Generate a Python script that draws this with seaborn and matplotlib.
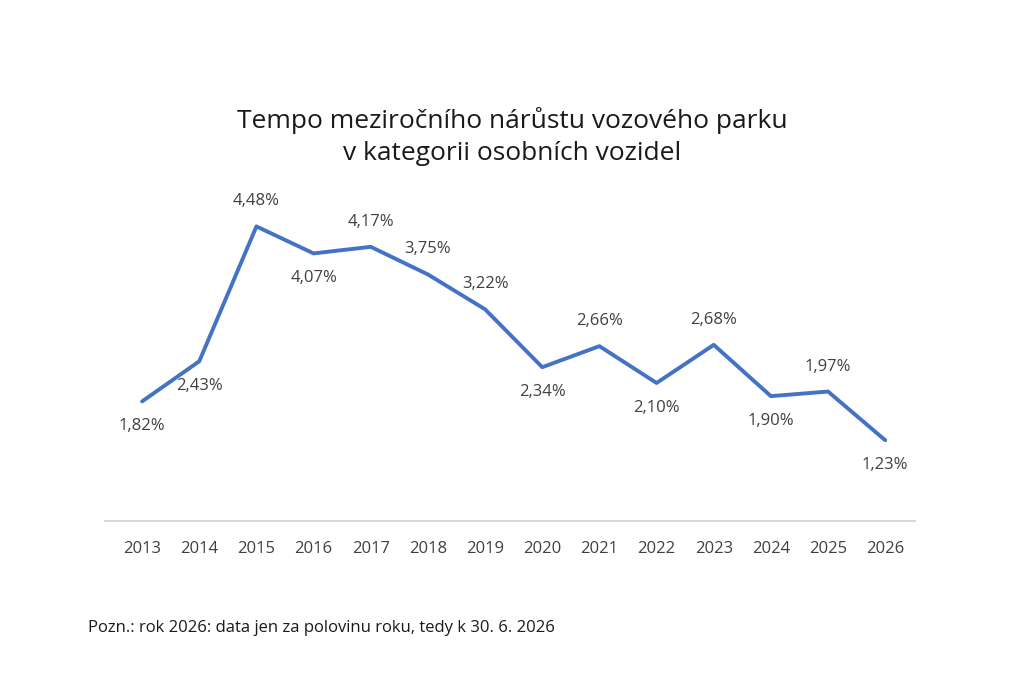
import matplotlib
matplotlib.use("Agg")
import matplotlib.pyplot as plt
import seaborn as sns
import pandas as pd

roky = ["2013", "2014", "2015", "2016", "2017", "2018", "2019",
        "2020", "2021", "2022", "2023", "2024", "2025", "2026"]
narust = [1.82, 2.43, 4.48, 4.07, 4.17, 3.75, 3.22,
          2.34, 2.66, 2.10, 2.68, 1.90, 1.97, 1.23]
popisek_nahore = [False, False, True, False, True, True, True,
                  False, True, False, True, False, True, False]

sns.set_theme(style="white")
plt.rcParams["font.family"] = ["Open Sans", "DejaVu Sans"]

df = pd.DataFrame({"rok": roky, "narust": narust})

fig = plt.figure(figsize=(10.24, 6.83), dpi=100)
ax = fig.add_axes([0.1025, 0.237, 0.791, 0.47])
sns.lineplot(data=df, x="rok", y="narust", ax=ax, color="#4472C4",
             linewidth=2.8, sort=False)

for i, (v, nahore) in enumerate(zip(narust, popisek_nahore)):
    ax.annotate(f"{v:.2f}".replace(".", ",") + "%", (i, v),
                xytext=(0, 18 if nahore else -18), textcoords="offset points",
                ha="center", va="center", fontsize=12, color="#404040")

ax.set_xlim(-0.65, 13.52)
ax.set_ylim(0, 4.88)
ax.set_yticks([])
ax.set_xlabel("")
ax.set_ylabel("")
for s in ["top", "left", "right"]:
    ax.spines[s].set_visible(False)
ax.spines["bottom"].set_color("#d0d0d0")
ax.spines["bottom"].set_linewidth(1.2)
ax.tick_params(axis="x", labelsize=12, labelcolor="#404040", pad=14, length=0)

fig.text(0.5, 0.80, "Tempo meziročního nárůstu vozového parku\nv kategorii osobních vozidel",
         ha="center", va="center", fontsize=19, color="#1a1a1a", linespacing=1.35)
fig.text(0.086, 0.08, "Pozn.: rok 2026: data jen za polovinu roku, tedy k 30. 6. 2026",
         ha="left", va="center", fontsize=12, color="#1a1a1a")

fig.savefig("out.png", dpi=100)
